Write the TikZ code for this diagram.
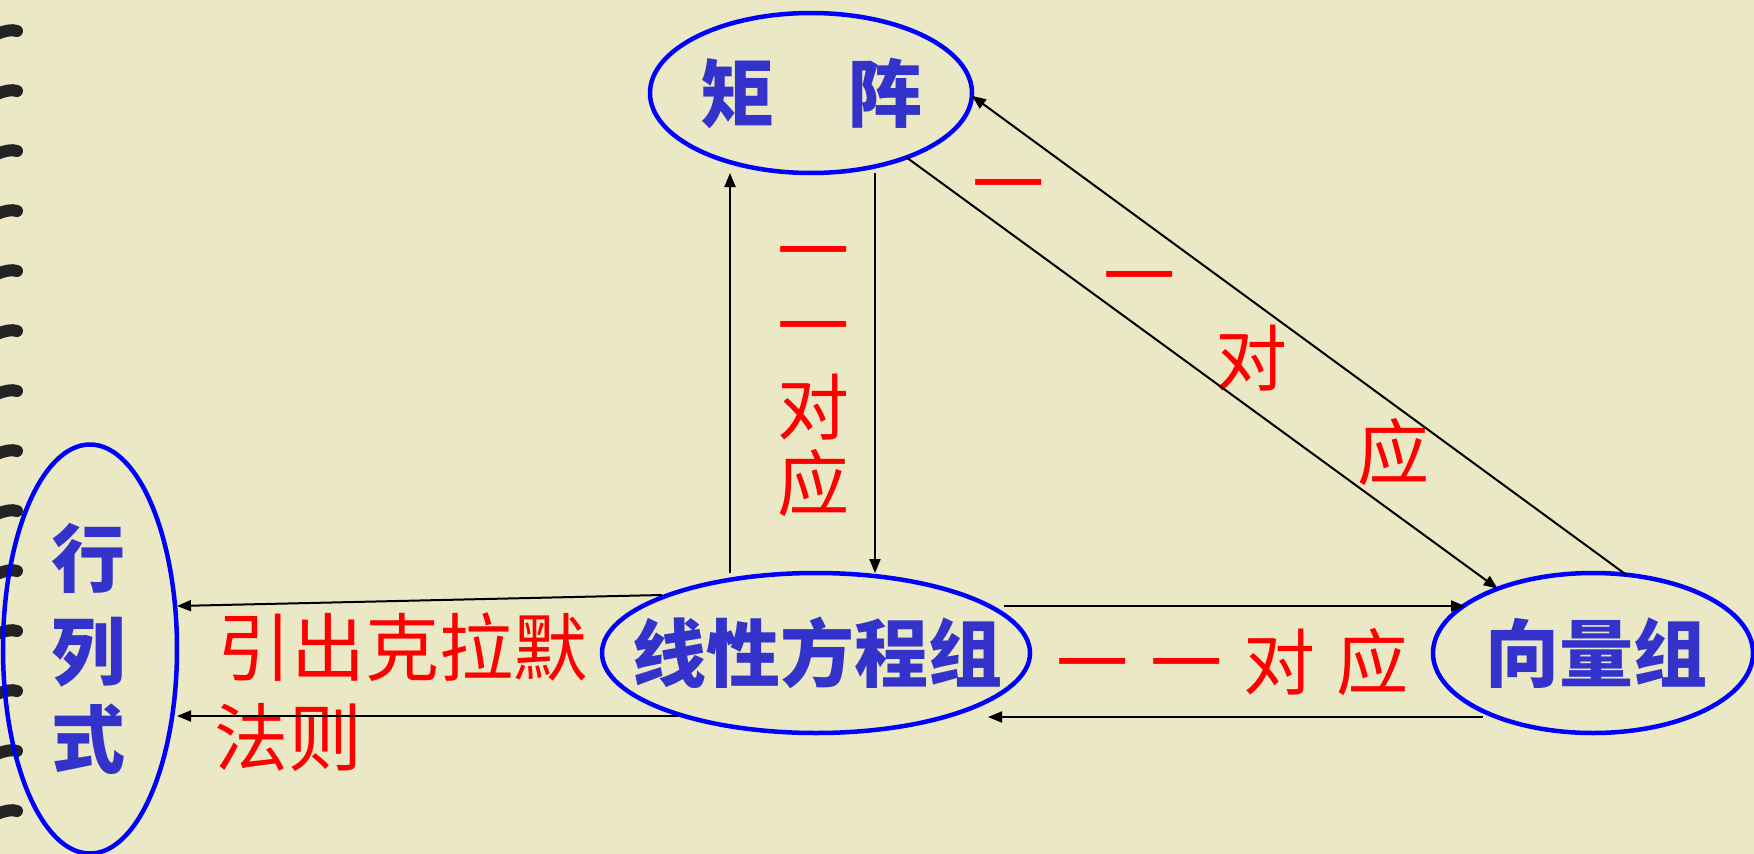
\documentclass[tikz,border=0pt]{standalone}
\usepackage{fontspec}
\newfontfamily\cjk{Noto Sans CJK SC}
\usetikzlibrary{arrows.meta,shapes.geometric}
\definecolor{paper}{RGB}{235,232,198}
\definecolor{inkblue}{RGB}{51,51,204}
\definecolor{ringgray}{RGB}{35,35,35}
\begin{document}
\begin{tikzpicture}
        [x=1pt, y=-1pt,
        oval/.style={ellipse, draw=blue, line width=4.5pt, inner sep=0pt, outer sep=0pt},
        bluetxt/.style={text=inkblue, font=\cjk\bfseries\fontsize{74}{74}\selectfont, inner sep=0pt, text height=65pt, text depth=9pt},
        redtxt/.style={text=red, font=\cjk\fontsize{72}{72}\selectfont, inner sep=0pt, text height=63pt, text depth=9pt},
        arr/.style={-{Triangle[length=14pt,width=11pt]}, line width=2pt},
        ring/.style={line width=12pt, line cap=round, draw=ringgray},
        ]
        \path[use as bounding box, fill=paper] (0,0) rectangle (1754,854);
        \foreach \i in {0,...,13}
          \draw[ring] (-6, 35+60*\i) .. controls (4, 31+60*\i) and (12, 29+60*\i) .. (17, 31+60*\i);

        \node[oval, minimum width=322pt, minimum height=160pt] (jz) at (811,93) {};
        \node[oval, minimum width=428pt, minimum height=160pt] (xx) at (816,653) {};
        \node[oval, minimum width=320pt, minimum height=160pt] (xl) at (1593,653) {};
        \node[oval, minimum width=174pt, minimum height=409pt] (hl) at (90,649) {};

        \node[bluetxt] (jzt) at (811,93) {矩　阵};
        \node[bluetxt] (xxt) at (817,653) {线性方程组};
        \node[bluetxt] (xlt) at (1596,653) {向量组};
        \foreach \c/\y [count=\i] in {行/558, 列/651, 式/739}
          \node[bluetxt] (hlt\i) at (88,\y) {\c};

        \foreach \c/\y [count=\i] in {一/250, 一/325, 对/407, 应/483}
          \node[redtxt] (vert\i) at (813,\y) {\c};
        \foreach \c/\x/\y [count=\i] in {一/1008/183, 一/1139/275, 对/1251/358, 应/1393/452}
          \node[redtxt] (diag\i) at (\x,\y) {\c};
        \foreach \c/\x [count=\i] in {一/1092, 一/1186, 对/1279, 应/1372}
          \node[redtxt] (horz\i) at (\x,662) {\c};
        \node[redtxt, font=\cjk\fontsize{74}{74}\selectfont, anchor=west] (kl1) at (217,648) {引出克拉默};
        \node[redtxt, font=\cjk\fontsize{74}{74}\selectfont, anchor=west] (kl2) at (214,738) {法则};

        \draw[arr] ([xshift=-86pt]xx.north) -- ([xshift=-81pt]jz.south);
        \draw[arr] ([xshift=64pt]jz.south) -- ([xshift=59pt]xx.north);
        \draw[arr] (jz.-34) -- (xl.146);
        \draw[arr] (xl.67) -- (jz.-1);
        \draw[arr] ([xshift=-26pt,yshift=47pt]xx.east) -- ([xshift=32pt,yshift=47pt]xl.west);
        \draw[arr] ([xshift=50pt,yshift=-64pt]xl.west) -- ([xshift=-42pt,yshift=-64pt]xx.east);
        \draw[arr] ([xshift=60pt,yshift=58pt]xx.west) -- ([yshift=43pt]hl.east);
        \draw[arr] ([xshift=76pt,yshift=-63pt]xx.west) -- ([yshift=-67pt]hl.east);
\end{tikzpicture}
\end{document}
